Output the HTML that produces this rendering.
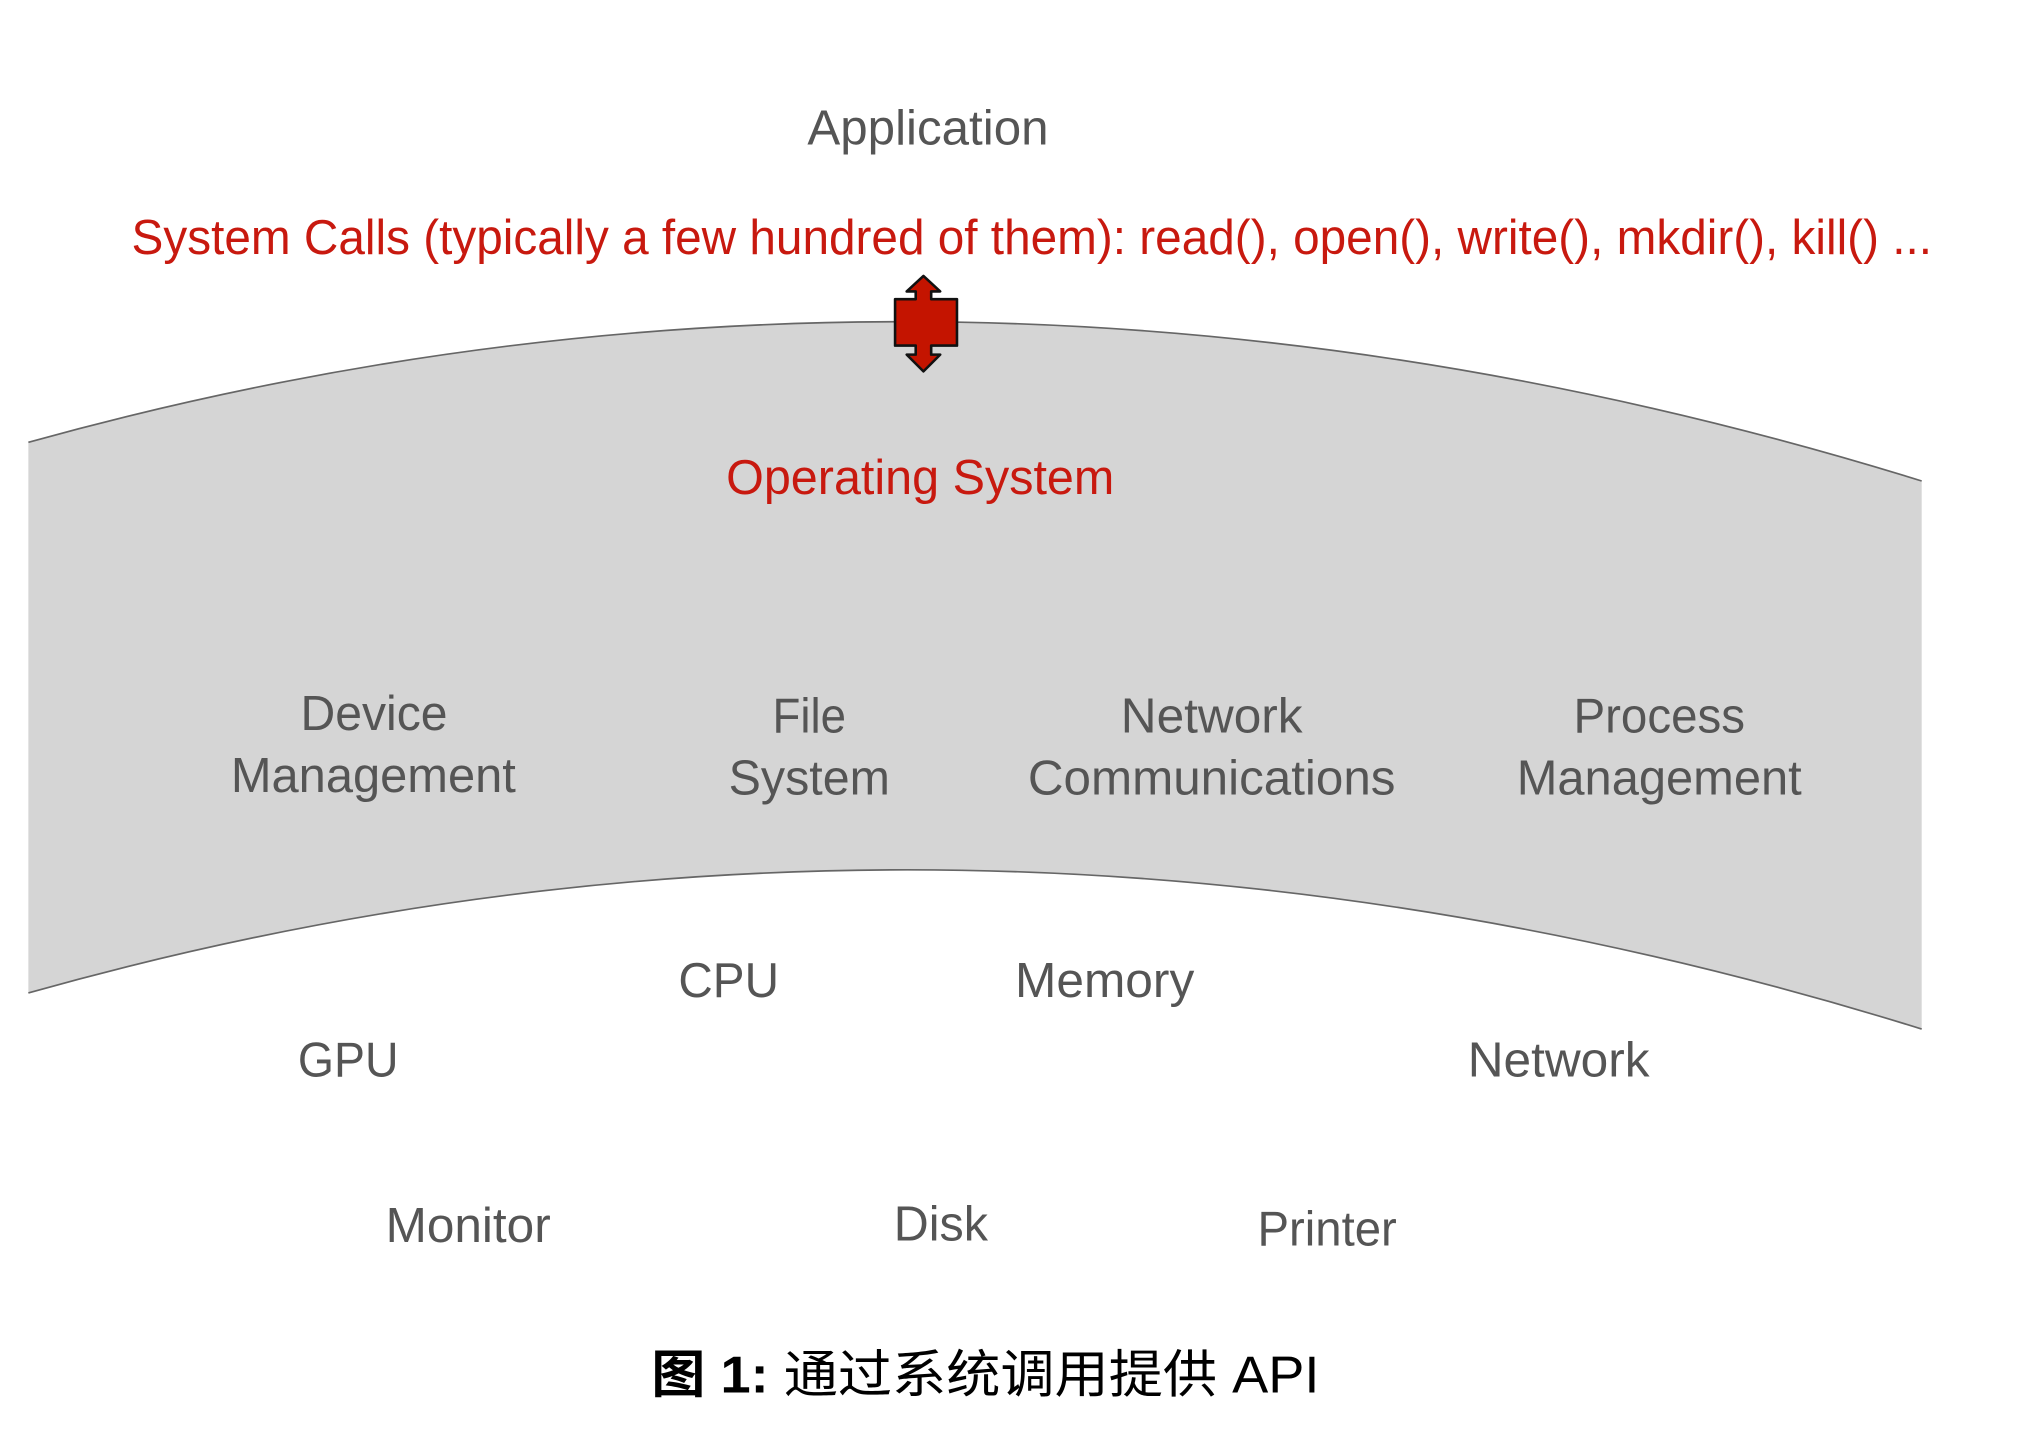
<!DOCTYPE html>
<html><head><meta charset="utf-8"><style>
html,body{margin:0;padding:0;background:#fff;}
svg{display:block;}
text{font-family:"Liberation Sans","Noto Sans CJK SC",sans-serif;}
</style></head><body>
<svg width="2021" height="1452" viewBox="0 0 1567 1126" preserveAspectRatio="none" xmlns="http://www.w3.org/2000/svg">
<path d="M22,343 Q745,142 1490,373 L1490,798 Q745,566 22,770 Z" fill="#d5d5d5"/>
<path d="M22,343 Q745,142 1490,373" fill="none" stroke="#666" stroke-width="1.3"/>
<path d="M22,770 Q745,566 1490,798" fill="none" stroke="#666" stroke-width="1.3"/>
<g transform="translate(3,0)">
<path d="M713,214 L726,226 L719,226 L719,232 L739,232 L739,268 L719,268 L719,275 L726,275 L713,288 L700,275 L707,275 L707,268 L691,268 L691,232 L707,232 L707,226 L700,226 Z" fill="#c41400" stroke="#111" stroke-width="2" stroke-linejoin="round"/>
</g>
<g fill="#555" font-size="38">
<text x="626" y="112" textLength="187" lengthAdjust="spacingAndGlyphs">Application</text>
<text x="233" y="566" textLength="114" lengthAdjust="spacingAndGlyphs">Device</text>
<text x="179" y="614" textLength="221" lengthAdjust="spacingAndGlyphs">Management</text>
<text x="599" y="568" textLength="57" lengthAdjust="spacingAndGlyphs">File</text>
<text x="565" y="616" textLength="125" lengthAdjust="spacingAndGlyphs">System</text>
<text x="869" y="568" textLength="141" lengthAdjust="spacingAndGlyphs">Network</text>
<text x="797" y="616" textLength="285" lengthAdjust="spacingAndGlyphs">Communications</text>
<text x="1220" y="568" textLength="133" lengthAdjust="spacingAndGlyphs">Process</text>
<text x="1176" y="616" textLength="221" lengthAdjust="spacingAndGlyphs">Management</text>
<text x="526" y="773" textLength="78" lengthAdjust="spacingAndGlyphs">CPU</text>
<text x="787" y="773" textLength="139" lengthAdjust="spacingAndGlyphs">Memory</text>
<text x="231" y="835" textLength="78" lengthAdjust="spacingAndGlyphs">GPU</text>
<text x="1138" y="835" textLength="141" lengthAdjust="spacingAndGlyphs">Network</text>
<text x="299" y="963" textLength="128" lengthAdjust="spacingAndGlyphs">Monitor</text>
<text x="693" y="962" textLength="73" lengthAdjust="spacingAndGlyphs">Disk</text>
<text x="975" y="966" textLength="108" lengthAdjust="spacingAndGlyphs">Printer</text>
</g>
<g fill="#c8190f" font-size="38">
<text x="102" y="197" textLength="1396" lengthAdjust="spacingAndGlyphs">System Calls (typically a few hundred of them):  read(), open(), write(), mkdir(), kill() ...</text>
<text x="563" y="383" textLength="301" lengthAdjust="spacingAndGlyphs">Operating System</text>
</g>
<text x="505" y="1080" font-size="40" fill="#000" textLength="518" lengthAdjust="spacingAndGlyphs"><tspan font-weight="bold">图 1:</tspan> 通过系统调用提供 API</text>
</svg>
</body></html>
